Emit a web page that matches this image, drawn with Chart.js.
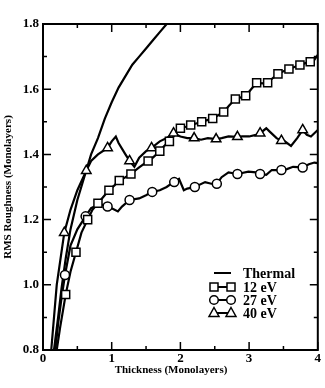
<!DOCTYPE html>
<html>
<head>
<meta charset="utf-8">
<script src="https://cdn.jsdelivr.net/npm/chart.js@4.4.1/dist/chart.umd.min.js"></script>
<style>
  body { margin: 0; background: #fff; }
  canvas { display: block; }
</style>
</head>
<body>
<canvas id="roughChart" width="325" height="388"></canvas>
<script>
// thickness (monolayers) / RMS roughness (monolayers)
const thermalX = [0.16, 0.22, 0.27, 0.33, 0.40, 0.50, 0.60, 0.70, 0.80, 0.90, 1.00, 1.10, 1.20, 1.30, 1.40, 1.50, 1.60, 1.70, 1.80, 1.85];
const thermalY = [0.80, 0.90, 0.99, 1.08, 1.17, 1.26, 1.33, 1.40, 1.45, 1.51, 1.56, 1.605, 1.64, 1.675, 1.70, 1.725, 1.75, 1.775, 1.80, 1.81];

const ev12X = [0.20, 0.25, 0.33, 0.40, 0.48, 0.56, 0.65, 0.72, 0.80, 0.88, 0.96, 1.04, 1.11, 1.20, 1.28, 1.40, 1.53, 1.60, 1.70, 1.76, 1.84, 1.92, 2.00, 2.08, 2.15, 2.23, 2.31, 2.39, 2.47, 2.55, 2.63, 2.71, 2.80, 2.88, 2.95, 3.03, 3.11, 3.19, 3.27, 3.35, 3.42, 3.50, 3.58, 3.66, 3.74, 3.82, 3.89, 3.95, 4.00];
const ev12Y = [0.80, 0.87, 0.97, 1.04, 1.10, 1.16, 1.20, 1.23, 1.25, 1.27, 1.29, 1.305, 1.32, 1.33, 1.34, 1.36, 1.38, 1.39, 1.41, 1.425, 1.44, 1.46, 1.48, 1.485, 1.49, 1.495, 1.50, 1.505, 1.51, 1.52, 1.53, 1.55, 1.57, 1.575, 1.58, 1.60, 1.62, 1.618, 1.62, 1.635, 1.647, 1.655, 1.662, 1.668, 1.674, 1.68, 1.684, 1.69, 1.705];
const ev12MarkX = [0.33, 0.48, 0.65, 0.80, 0.96, 1.11, 1.28, 1.53, 1.70, 1.84, 2.00, 2.15, 2.31, 2.47, 2.63, 2.80, 2.95, 3.11, 3.27, 3.42, 3.58, 3.74, 3.89];
const ev12MarkY = [0.97, 1.10, 1.20, 1.25, 1.29, 1.32, 1.34, 1.38, 1.41, 1.44, 1.48, 1.49, 1.50, 1.51, 1.53, 1.57, 1.58, 1.62, 1.62, 1.647, 1.662, 1.674, 1.684];

const ev27X = [0.18, 0.22, 0.27, 0.32, 0.40, 0.50, 0.62, 0.70, 0.80, 0.90, 0.94, 1.00, 1.09, 1.15, 1.26, 1.40, 1.50, 1.59, 1.70, 1.80, 1.90, 1.98, 2.05, 2.10, 2.21, 2.36, 2.45, 2.53, 2.60, 2.70, 2.83, 2.99, 3.10, 3.16, 3.25, 3.33, 3.47, 3.55, 3.64, 3.78, 3.87, 3.95, 4.00];
const ev27Y = [0.80, 0.88, 0.96, 1.03, 1.12, 1.17, 1.21, 1.235, 1.245, 1.245, 1.24, 1.235, 1.225, 1.24, 1.26, 1.265, 1.275, 1.285, 1.29, 1.30, 1.315, 1.325, 1.29, 1.295, 1.30, 1.315, 1.31, 1.31, 1.33, 1.345, 1.34, 1.347, 1.345, 1.34, 1.337, 1.352, 1.352, 1.355, 1.362, 1.36, 1.37, 1.375, 1.373];
const ev27MarkX = [0.32, 0.62, 0.94, 1.26, 1.59, 1.91, 2.21, 2.53, 2.83, 3.16, 3.47, 3.78];
const ev27MarkY = [1.03, 1.21, 1.24, 1.26, 1.285, 1.315, 1.30, 1.31, 1.34, 1.34, 1.352, 1.36];

const ev40X = [0.12, 0.20, 0.31, 0.40, 0.50, 0.63, 0.70, 0.80, 0.94, 1.00, 1.06, 1.10, 1.20, 1.26, 1.33, 1.40, 1.50, 1.58, 1.70, 1.80, 1.90, 2.00, 2.10, 2.20, 2.30, 2.40, 2.52, 2.60, 2.70, 2.83, 2.90, 3.00, 3.10, 3.16, 3.25, 3.30, 3.40, 3.47, 3.52, 3.61, 3.70, 3.78, 3.84, 3.90, 4.00];
const ev40Y = [0.80, 1.00, 1.16, 1.23, 1.29, 1.35, 1.38, 1.40, 1.42, 1.44, 1.455, 1.435, 1.40, 1.38, 1.362, 1.39, 1.41, 1.42, 1.44, 1.45, 1.465, 1.455, 1.45, 1.45, 1.445, 1.45, 1.447, 1.45, 1.455, 1.454, 1.455, 1.455, 1.46, 1.465, 1.48, 1.47, 1.45, 1.442, 1.44, 1.426, 1.45, 1.475, 1.46, 1.455, 1.475];
const ev40MarkX = [0.31, 0.63, 0.94, 1.26, 1.58, 1.90, 2.20, 2.52, 2.83, 3.16, 3.47, 3.78];
const ev40MarkY = [1.16, 1.35, 1.42, 1.38, 1.42, 1.465, 1.45, 1.447, 1.454, 1.465, 1.442, 1.475];

const xTickLabels = ['0', '1', '2', '3', '4'];
const yTickLabels = ['0.8', '1.0', '1.2', '1.4', '1.6', '1.8'];
const seriesNames = ['Thermal', '12 eV', '27 eV', '40 eV'];

const pts = (xs, ys) => xs.map((x, i) => ({ x: x, y: ys[i] }));
const serif = 'Liberation Serif, Times New Roman, serif';

function lineSet(label, xs, ys) {
  return {
    label: label, data: pts(xs, ys), showLine: true,
    borderColor: '#000', borderWidth: 2.2, pointRadius: 0, tension: 0, order: 1
  };
}
function markSet(label, xs, ys, style, r) {
  return {
    label: label, data: pts(xs, ys), showLine: false,
    pointStyle: style, pointRadius: r, pointBorderWidth: 1.5,
    pointBorderColor: '#000', pointBackgroundColor: '#fff', order: 0
  };
}

// frame, inward ticks, legend and x title
const decorations = {
  id: 'decorations',
  afterDatasetsDraw(chart) {
    const { ctx, chartArea: a, scales: { x, y } } = chart;
    ctx.save();
    ctx.strokeStyle = '#000';
    ctx.lineWidth = 2;
    ctx.strokeRect(a.left, a.top, a.right - a.left, a.bottom - a.top);

    ctx.lineWidth = 1.5;
    ctx.beginPath();
    for (let i = 0; i <= 8; i++) {
      const px = x.getPixelForValue(i * 0.5);
      const len = i % 2 === 0 ? 8 : 4;
      ctx.moveTo(px, a.bottom); ctx.lineTo(px, a.bottom - len);
      ctx.moveTo(px, a.top); ctx.lineTo(px, a.top + len);
    }
    for (let i = 0; i <= 10; i++) {
      const py = y.getPixelForValue(0.8 + i * 0.1);
      const len = i % 2 === 0 ? 8 : 4;
      ctx.moveTo(a.left, py); ctx.lineTo(a.left + len, py);
      ctx.moveTo(a.right, py); ctx.lineTo(a.right - len, py);
    }
    ctx.stroke();

    // legend inside the plot, lower right
    const styles = [null, 'rect', 'circle', 'triangle'];
    const rowY = [273, 287, 300, 313];
    ctx.font = 'bold 14px ' + serif;
    ctx.textBaseline = 'middle';
    ctx.fillStyle = '#000';
    seriesNames.forEach((name, i) => {
      const yy = rowY[i];
      ctx.lineWidth = 2;
      ctx.beginPath();
      ctx.moveTo(214, yy); ctx.lineTo(231, yy);
      ctx.stroke();
      if (styles[i]) {
        [214, 231].forEach(cx => {
          ctx.lineWidth = 1.5;
          ctx.fillStyle = '#fff';
          ctx.beginPath();
          if (styles[i] === 'rect') {
            ctx.rect(cx - 4, yy - 4, 8, 8);
          } else if (styles[i] === 'circle') {
            ctx.arc(cx, yy, 4.3, 0, Math.PI * 2);
          } else {
            ctx.moveTo(cx, yy - 5.5);
            ctx.lineTo(cx + 5, yy + 3.5);
            ctx.lineTo(cx - 5, yy + 3.5);
            ctx.closePath();
          }
          ctx.fill();
          ctx.stroke();
        });
      }
      ctx.fillStyle = '#000';
      ctx.fillText(name, 243, yy + 1);
    });

    ctx.font = 'bold 11px ' + serif;
    ctx.textAlign = 'center';
    ctx.textBaseline = 'middle';
    ctx.fillText('Thickness (Monolayers)', 171, 370);
    ctx.restore();
  }
};

new Chart(document.getElementById('roughChart').getContext('2d'), {
  type: 'scatter',
  data: {
    datasets: [
      lineSet(seriesNames[0], thermalX, thermalY),
      lineSet(seriesNames[1], ev12X, ev12Y),
      lineSet(seriesNames[2], ev27X, ev27Y),
      lineSet(seriesNames[3], ev40X, ev40Y),
      markSet(seriesNames[1], ev12MarkX, ev12MarkY, 'rect', 5.7),
      markSet(seriesNames[2], ev27MarkX, ev27MarkY, 'circle', 4.5),
      markSet(seriesNames[3], ev40MarkX, ev40MarkY, 'triangle', 5.5)
    ]
  },
  options: {
    responsive: false,
    animation: false,
    layout: { padding: { top: 24, right: 5, bottom: 0, left: 0 } },
    plugins: { legend: { display: false }, tooltip: { enabled: false } },
    scales: {
      x: {
        type: 'linear', min: 0, max: 4,
        grid: { display: false, drawTicks: false },
        border: { display: false },
        afterFit(scale) { scale.height = 38; },
        ticks: {
          stepSize: 1, padding: 1, color: '#000',
          font: { family: serif, size: 13, weight: 'bold' },
          callback: (v) => xTickLabels[Math.round(v)]
        }
      },
      y: {
        type: 'linear', min: 0.8, max: 1.8,
        grid: { display: false, drawTicks: false },
        border: { display: false },
        afterFit(scale) { scale.width = 43; },
        title: {
          display: true, text: 'RMS Roughness (Monolayers)', color: '#000',
          padding: { top: 1.5, bottom: 0 },
          font: { family: serif, size: 11, weight: 'bold' }
        },
        ticks: {
          stepSize: 0.2, padding: 4, color: '#000',
          font: { family: serif, size: 13, weight: 'bold' },
          callback: (v) => yTickLabels[Math.round((v - 0.8) / 0.2)]
        }
      }
    }
  },
  plugins: [decorations]
});
</script>
</body>
</html>
